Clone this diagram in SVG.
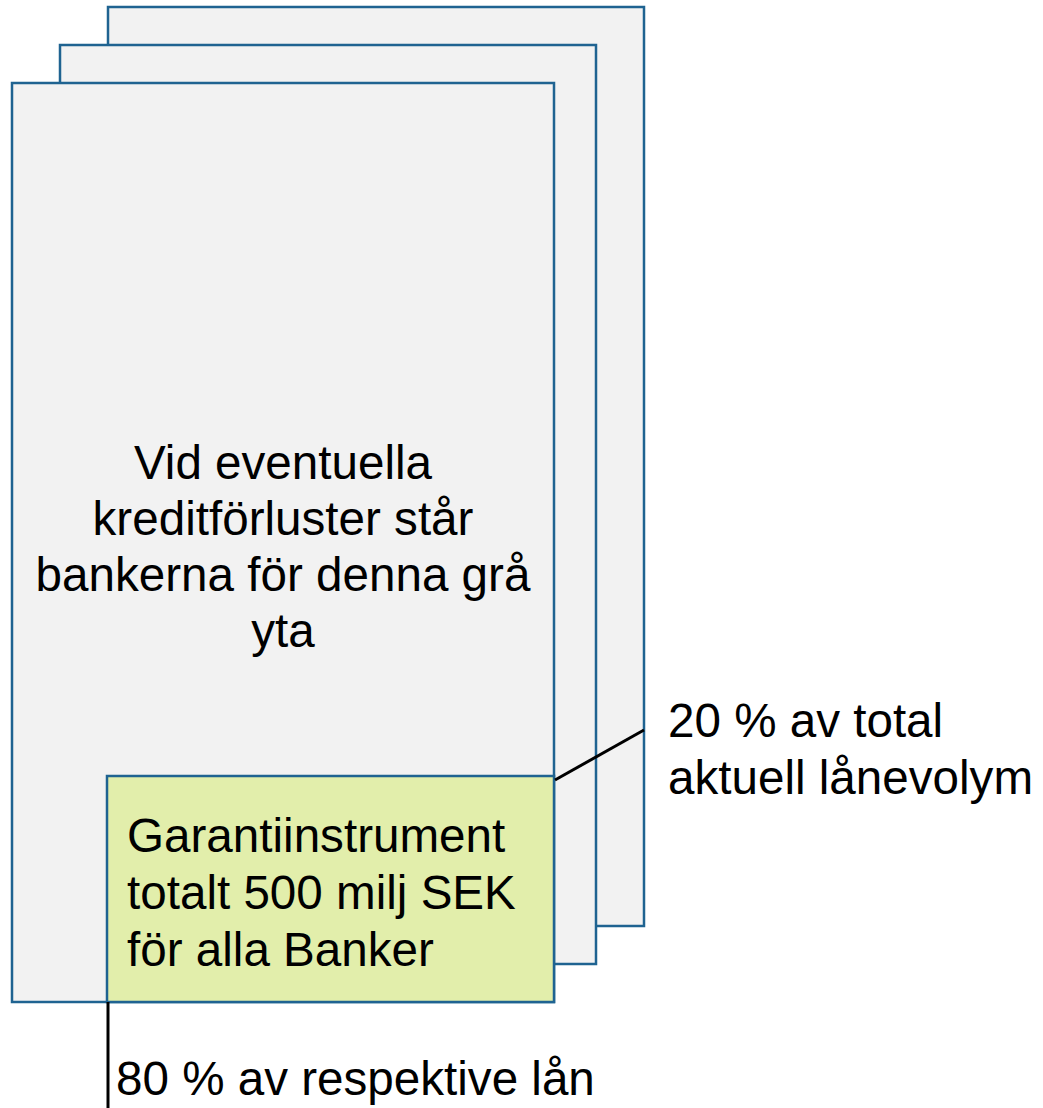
<svg xmlns="http://www.w3.org/2000/svg" width="1043" height="1108" viewBox="0 0 1043 1108">
<style>
.card{fill:#F2F2F2;stroke:#1F6391;stroke-width:2.5}
.green{fill:#E2EEAB;stroke:#1F6391;stroke-width:2.5}
.t{font-family:"Liberation Sans",Arial,sans-serif;font-size:47.6px;fill:#000}
.c{stroke:#000;stroke-width:3;fill:none}
</style>
<rect width="1043" height="1108" fill="#fff"/>
<g id="card-back"><rect class="card" x="108" y="7" width="536" height="919"/></g>
<g id="card-middle"><rect class="card" x="60" y="45" width="536" height="919"/></g>
<g id="card-front"><rect class="card" x="12" y="83" width="542" height="919"/>
<text class="t" text-anchor="middle" x="283" y="479">Vid eventuella</text>
<text class="t" text-anchor="middle" x="283" y="535">kreditförluster står</text>
<text class="t" text-anchor="middle" x="283" y="591">bankerna för denna grå</text>
<text class="t" text-anchor="middle" x="283" y="647">yta</text>
</g>
<g id="guarantee"><rect class="green" x="107" y="776" width="447" height="226"/>
<text class="t" x="127" y="852">Garantiinstrument</text>
<text class="t" x="127" y="909">totalt 500 milj SEK</text>
<text class="t" x="127" y="966">för alla Banker</text>
</g>
<g id="label-20"><text class="t" x="668" y="737">20 % av total</text>
<text class="t" x="668" y="794">aktuell lånevolym</text></g>
<g id="label-80"><text class="t" x="116" y="1095">80 % av respektive lån</text></g>
<g id="connectors">
<line class="c" x1="555" y1="780" x2="644" y2="730"/>
<line class="c" x1="108" y1="1002" x2="108" y2="1108"/>
</g>
</svg>
